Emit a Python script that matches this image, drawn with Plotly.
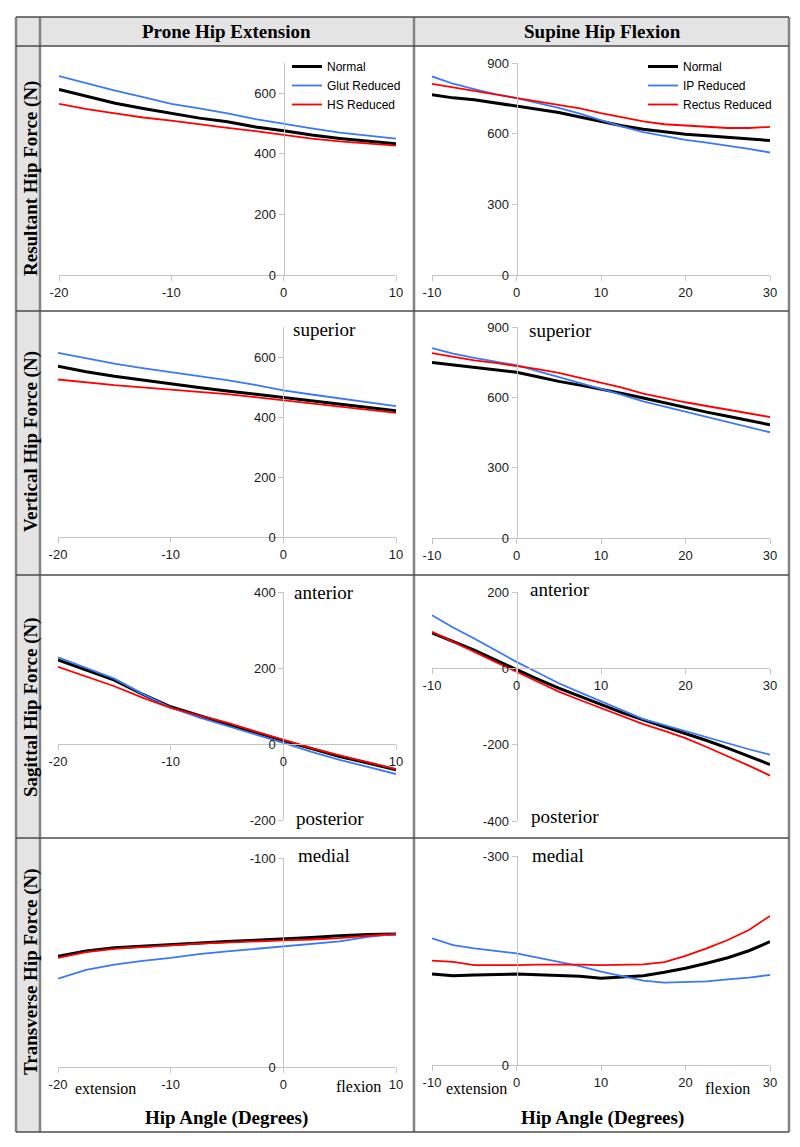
import plotly.graph_objects as go

# hip angles (degrees)
prone_angle = [-20, -17.5, -15, -12.5, -10, -7.5, -5, -2.5, 0, 2.5, 5, 7.5, 10]
supine_angle = [-10, -7.5, -5, -2.5, 0, 2.5, 5, 7.5, 10, 12.5, 15, 17.5, 20, 22.5, 25, 27.5, 30]

# Prone hip extension (N)
prone_res_normal = [613, 591, 567, 550, 534, 518, 506, 489, 476, 462, 451, 443, 433]
prone_res_glut = [657, 632, 609, 587, 565, 550, 534, 515, 499, 484, 470, 459, 450]
prone_res_hs = [565, 548, 534, 520, 510, 497, 486, 475, 462, 450, 441, 433, 427]

prone_vert_normal = [569, 551, 536, 523, 511, 498, 487, 476, 467, 456, 445, 433, 421]
prone_vert_glut = [614, 595, 578, 563, 550, 537, 523, 507, 489, 475, 462, 449, 436]
prone_vert_hs = [525, 515, 506, 499, 492, 484, 476, 466, 456, 446, 436, 426, 414]

prone_sag_normal = [221, 194, 168, 131, 98, 75, 54, 31, 9, -13, -33, -50, -68]
prone_sag_glut = [228, 199, 172, 132, 96, 70, 48, 25, 3, -21, -42, -60, -79]
prone_sag_hs = [203, 177, 152, 122, 95, 75, 56, 33, 10, -11, -30, -48, -66]

prone_trans_normal = [-53, -55.5, -57, -57.8, -58.5, -59.3, -60, -60.6, -61.2, -62, -62.8, -63.4, -63.6]
prone_trans_glut = [-42.3, -46.5, -49, -50.8, -52.2, -54, -55.3, -56.5, -57.7, -58.9, -60.1, -62.3, -63.6]
prone_trans_hs = [-52.2, -55, -56.5, -57.5, -58.2, -59, -59.6, -60.1, -60.6, -61, -61.7, -62.8, -63.6]

# Supine hip flexion (N)
supine_res_normal = [765, 752, 744, 730, 718, 703, 690, 671, 652, 634, 619, 608, 598, 591, 585, 580, 571]
supine_res_ip = [843, 812, 789, 768, 751, 731, 709, 685, 656, 630, 607, 589, 574, 562, 550, 535, 520]
supine_res_rectus = [811, 796, 780, 765, 751, 737, 723, 707, 687, 668, 652, 640, 635, 630, 624, 624, 629]

supine_vert_normal = [749, 739, 728, 718, 707, 688, 668, 652, 636, 617, 597, 576, 555, 537, 519, 501, 483]
supine_vert_ip = [810, 786, 768, 753, 737, 712, 687, 661, 636, 610, 583, 561, 540, 519, 498, 475, 451]
supine_vert_rectus = [789, 772, 758, 747, 735, 720, 704, 684, 664, 641, 616, 597, 579, 563, 547, 532, 516]

supine_sag_normal = [93, 70, 48, 22, -4, -28, -52, -74, -96, -116, -135, -153, -170, -189, -209, -230, -252]
supine_sag_ip = [139, 107, 78, 47, 17, -11, -39, -63, -87, -110, -133, -149, -165, -180, -196, -212, -226]
supine_sag_rectus = [96, 69, 43, 17, -9, -35, -61, -83, -104, -126, -146, -164, -183, -206, -230, -255, -281]

supine_trans_normal = [-130.6, -128, -129.2, -130, -130.6, -129.5, -128.2, -127.5, -124.4, -125.8, -128.2,
                       -133, -138.8, -146, -154, -164, -177]
supine_trans_ip = [-181.8, -172, -167.5, -164, -160.3, -154, -148.3, -142, -134, -127.8, -121, -118.2,
                   -118.7, -120, -123, -125.5, -129.2]
supine_trans_rectus = [-149.8, -148, -143.5, -143, -143.5, -144, -144.5, -144, -143.5, -143.5, -144.5,
                       -147.8, -156.5, -167.5, -179.4, -193.8, -213.9]

prone_names = ['Normal', 'Glut Reduced', 'HS Reduced']
supine_names = ['Normal', 'IP Reduced', 'Rectus Reduced']

# tick values (labels keep the plain hyphen used in the original)
prone_xticks = [-20, -10, 0, 10]
supine_xticks = [-10, 0, 10, 20, 30]

# the page body adds an 8px offset, so the figure is drawn 8px smaller
# and every pixel position below is measured on the full 800x1147 page
OFF = 8
W, H = 800 - OFF, 1147 - OFF
colors = ['#000000', '#3a78f5', '#ff0000']
widths = [3, 1.8, 1.8]
axis_gray = '#c4c4c4'
tick_font = dict(family='Liberation Sans', size=13, color='#1a1a1a')
serif = 'Liberation Serif'


def px_x(v):
    return (v - OFF) / W


def px_y(v):
    return 1 - (v - OFF) / H


# panel: (x data, series, x range, y range, y ticks, x ticks, pixel box left/right/top/bottom)
panels = [
    (prone_angle, [prone_res_normal, prone_res_glut, prone_res_hs], [-20, 10], [0, 700],
     [0, 200, 400, 600], prone_xticks, (59, 396, 63, 275)),
    (supine_angle, [supine_res_normal, supine_res_ip, supine_res_rectus], [-10, 30], [0, 900],
     [0, 300, 600, 900], supine_xticks, (432, 770, 63, 275)),
    (prone_angle, [prone_vert_normal, prone_vert_glut, prone_vert_hs], [-20, 10], [0, 700],
     [0, 200, 400, 600], prone_xticks, (58, 396, 327, 537)),
    (supine_angle, [supine_vert_normal, supine_vert_ip, supine_vert_rectus], [-10, 30], [0, 900],
     [0, 300, 600, 900], supine_xticks, (432, 770, 327, 538)),
    (prone_angle, [prone_sag_normal, prone_sag_glut, prone_sag_hs], [-20, 10], [-200, 400],
     [-200, 0, 200, 400], prone_xticks, (58, 396, 592, 820)),
    (supine_angle, [supine_sag_normal, supine_sag_ip, supine_sag_rectus], [-10, 30], [-400, 200],
     [-400, -200, 0, 200], supine_xticks, (432, 770, 592, 821)),
    (prone_angle, [prone_trans_normal, prone_trans_glut, prone_trans_hs], [-20, 10], [0, -100],
     [-100, 0], prone_xticks, (58, 396, 858, 1067)),
    (supine_angle, [supine_trans_normal, supine_trans_ip, supine_trans_rectus], [-10, 30], [0, -300],
     [-300, 0], supine_xticks, (432, 770, 856, 1065)),
]

fig = go.Figure()
layout = {}
for i, (xs, series, xr, yr, yt, xt, box) in enumerate(panels):
    n = '' if i == 0 else str(i + 1)
    left, right, top, bottom = box
    dx = [px_x(left), px_x(right)]
    dy = [px_y(bottom), px_y(top)]
    # where the axes cross (x=0 / y=0)
    xpos = dx[0] + (0 - xr[0]) / (xr[1] - xr[0]) * (dx[1] - dx[0])
    ypos = dy[0] + (0 - yr[0]) / (yr[1] - yr[0]) * (dy[1] - dy[0])
    names = prone_names if i % 2 == 0 else supine_names
    for k, ys in enumerate(series):
        fig.add_trace(go.Scatter(
            x=xs, y=ys, mode='lines', name=names[k],
            line=dict(color=colors[k], width=widths[k]),
            xaxis='x' + n, yaxis='y' + n,
            showlegend=(i < 2),
            legend='legend' if i == 0 else 'legend2',
        ))
    layout['xaxis' + n] = dict(
        domain=dx, range=xr, anchor='free', position=ypos, automargin=False,
        showline=True, linecolor=axis_gray, linewidth=1,
        ticks='outside', ticklen=5, tickcolor=axis_gray,
        tickvals=xt, ticktext=[str(v) for v in xt],
        showgrid=False, zeroline=False, tickfont=tick_font,
    )
    layout['yaxis' + n] = dict(
        domain=dy, range=yr, anchor='free', position=xpos, automargin=False,
        showline=True, linecolor=axis_gray, linewidth=1,
        ticks='outside', ticklen=5, tickcolor=axis_gray,
        tickvals=yt, ticktext=[str(v) for v in yt],
        showgrid=False, zeroline=False, tickfont=tick_font,
    )

fig.update_layout(**layout)

###############################################################################
# table frame: gray header row, gray left column and the cell borders
###############################################################################
col_x = [16, 40, 414, 789]
row_y = [17, 46, 311, 575, 838, 1132]
shapes = [
    dict(type='rect', xref='paper', yref='paper', x0=px_x(16), x1=px_x(789), y0=px_y(46), y1=px_y(17),
         fillcolor='#e4e4e4', line_width=0, layer='below'),
    dict(type='rect', xref='paper', yref='paper', x0=px_x(16), x1=px_x(40), y0=px_y(1132), y1=px_y(17),
         fillcolor='#e4e4e4', line_width=0, layer='below'),
]
for cx in col_x:
    shapes.append(dict(type='line', xref='paper', yref='paper', x0=px_x(cx), x1=px_x(cx),
                       y0=px_y(17), y1=px_y(1132), line=dict(color='#838383', width=2.5)))
for ry in row_y:
    shapes.append(dict(type='line', xref='paper', yref='paper', x0=px_x(16), x1=px_x(789),
                       y0=px_y(ry), y1=px_y(ry), line=dict(color='#4d4d4d', width=1.5)))

###############################################################################
# text: column titles, row titles, direction labels
###############################################################################
title_font = dict(family=serif, size=19, color='black')
label_font = dict(family=serif, size=19, color='black')
small_font = dict(family=serif, size=16, color='black')
annotations = []


def note(text, x, y, font, xanchor='left', angle=0):
    annotations.append(dict(text=text, x=px_x(x), y=px_y(y), xref='paper', yref='paper',
                            xanchor=xanchor, yanchor='middle', showarrow=False,
                            font=font, textangle=angle))


note('<b>Prone Hip Extension</b>', 227, 31, title_font, 'center')
note('<b>Supine Hip Flexion</b>', 602, 31, title_font, 'center')
note('<b>Resultant Hip Force (N)</b>', 31, 179, title_font, 'center', -90)
note('<b>Vertical Hip Force (N)</b>', 31, 442, title_font, 'center', -90)
note('<b>Sagittal Hip Force (N)</b>', 31, 707, title_font, 'center', -90)
note('<b>Transverse Hip Force (N)</b>', 31, 972, title_font, 'center', -90)
note('<b>Hip Angle (Degrees)</b>', 227, 1118, title_font, 'center')
note('<b>Hip Angle (Degrees)</b>', 602, 1118, title_font, 'center')

note('superior', 291, 329, label_font)
note('superior', 527, 331, label_font)
note('anterior', 292, 592, label_font)
note('posterior', 294, 818, label_font)
note('anterior', 528, 589, label_font)
note('posterior', 529, 816, label_font)
note('medial', 296, 855, label_font)
note('medial', 530, 855, label_font)
note('extension', 105, 1088, small_font, 'center')
note('flexion', 358, 1086, small_font, 'center')
note('extension', 477, 1088, small_font, 'center')
note('flexion', 727, 1088, small_font, 'center')

fig.update_layout(
    width=W, height=H,
    margin=dict(l=0, r=0, t=0, b=0, autoexpand=False),
    paper_bgcolor='white', plot_bgcolor='rgba(0,0,0,0)',
    shapes=shapes, annotations=annotations,
    legend=dict(x=px_x(287), y=px_y(52), xanchor='left', yanchor='top',
                bgcolor='rgba(0,0,0,0)', font=dict(family='Liberation Sans', size=12, color='black'),
                tracegroupgap=0),
    legend2=dict(x=px_x(643), y=px_y(52), xanchor='left', yanchor='top',
                 bgcolor='rgba(0,0,0,0)', font=dict(family='Liberation Sans', size=12, color='black'),
                 tracegroupgap=0),
)

fig.write_html("out.html")
